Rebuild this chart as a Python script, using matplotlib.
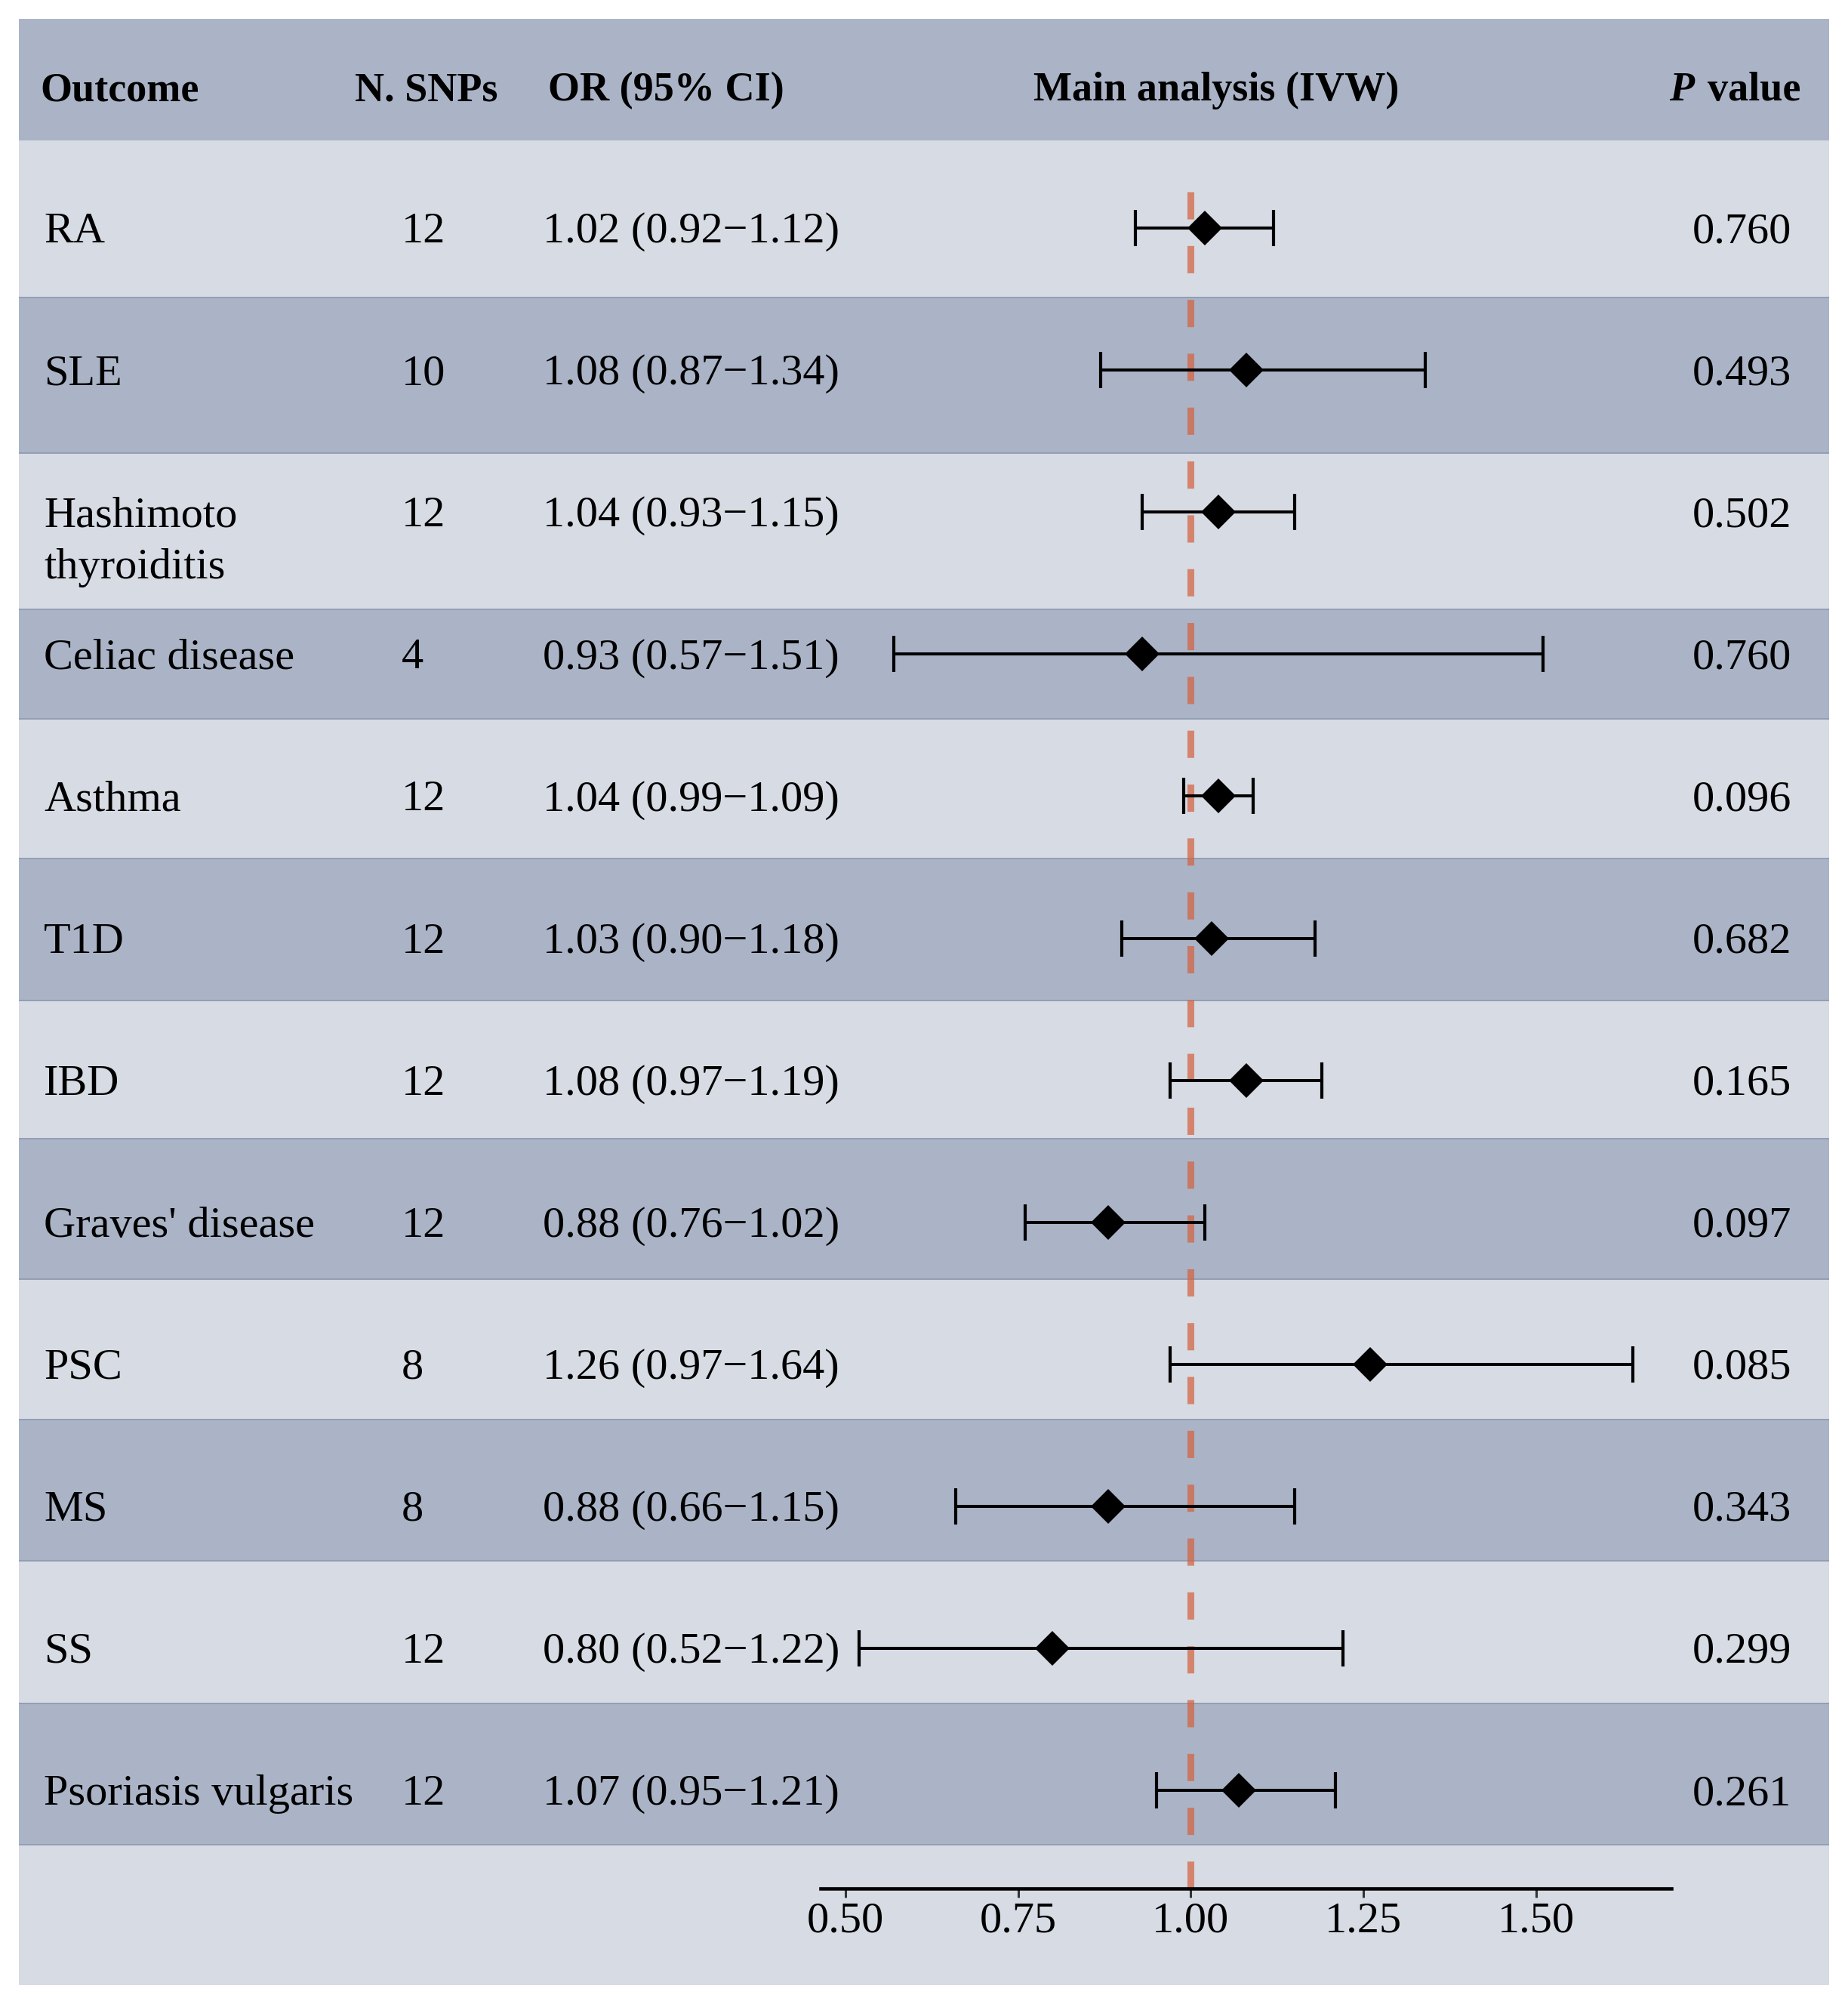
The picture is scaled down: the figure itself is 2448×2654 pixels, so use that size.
import matplotlib
matplotlib.use("Agg")
import matplotlib.pyplot as plt
from matplotlib.patches import Rectangle

# ---------------- data ----------------
outcomes = ["RA", "SLE", "Hashimoto\nthyroiditis", "Celiac disease", "Asthma", "T1D",
            "IBD", "Graves' disease", "PSC", "MS", "SS", "Psoriasis vulgaris"]
n_snps = [12, 10, 12, 4, 12, 12, 12, 12, 8, 8, 12, 12]
or_est = [1.02, 1.08, 1.04, 0.93, 1.04, 1.03, 1.08, 0.88, 1.26, 0.88, 0.80, 1.07]
ci_low = [0.92, 0.87, 0.93, 0.57, 0.99, 0.90, 0.97, 0.76, 0.97, 0.66, 0.52, 0.95]
ci_high = [1.12, 1.34, 1.15, 1.51, 1.09, 1.18, 1.19, 1.02, 1.64, 1.15, 1.22, 1.21]
p_values = ["0.760", "0.493", "0.502", "0.760", "0.096", "0.682", "0.165", "0.097",
            "0.085", "0.343", "0.299", "0.261"]
headers = ["Outcome", "N. SNPs", "OR (95% CI)", "Main analysis (IVW)", "value"]
x_ticks = [0.50, 0.75, 1.00, 1.25, 1.50]
x_tick_labels = ["0.50", "0.75", "1.00", "1.25", "1.50"]

# ---------------- layout ----------------
W, H = 2448, 2654
DPI = 100
FS = 42
FSH = 39
FONT = "Liberation Serif"
DARK = "#ABB4C7"
LIGHT = "#D7DBE4"
LINE = "#929EB3"

band_edges = [25, 186, 394, 600, 807, 952, 1137, 1325, 1508, 1694, 1880, 2067, 2256, 2443, 2629]
tab_left, tab_right = 25, 2423
row_y0, row_dy = 302, 188.1      # centre of first row, row spacing (pixels)
cap_half = 19                    # half cap height of text, px
line_gap = 69                    # line spacing for 2-line labels

fig = plt.figure(figsize=(W / DPI, H / DPI), dpi=DPI)
fig.patch.set_facecolor("white")

bg = fig.add_axes([0, 0, 1, 1])
bg.set_xlim(0, W)
bg.set_ylim(H, 0)
bg.axis("off")

# bands
for k in range(len(band_edges) - 1):
    col = DARK if k % 2 == 0 else LIGHT
    bg.add_patch(Rectangle((tab_left, band_edges[k]), tab_right - tab_left,
                           band_edges[k + 1] - band_edges[k], facecolor=col,
                           edgecolor="none", zorder=0))
for e in band_edges[2:-1]:
    bg.plot([tab_left, tab_right], [e, e], color=LINE, lw=1.4, zorder=1,
            solid_capstyle="butt")

# header
hb = 133
bg.text(53, hb, headers[0], fontsize=FSH, fontweight="bold", family=FONT, ha="left", va="baseline")
bg.text(470, hb, headers[1], fontsize=FSH, fontweight="bold", family=FONT, ha="left", va="baseline")
bg.text(726, hb, headers[2], fontsize=FSH, fontweight="bold", family=FONT, ha="left", va="baseline")
bg.text(1611, hb, headers[3], fontsize=FSH, fontweight="bold", family=FONT, ha="center", va="baseline")
bg.text(2385, hb, headers[4], fontsize=FSH, fontweight="bold", family=FONT, ha="right", va="baseline")
bg.text(2211, hb, "P", fontsize=FSH, fontweight="bold", fontstyle="italic", family=FONT,
        ha="left", va="baseline")

# table rows
for i in range(len(outcomes)):
    yb = row_y0 + i * row_dy + cap_half
    for j, line in enumerate(outcomes[i].split("\n")):
        bg.text(58, yb + j * line_gap, line, fontsize=FS, family=FONT, ha="left", va="baseline")
    bg.text(532, yb, str(n_snps[i]), fontsize=FS, family=FONT, ha="left", va="baseline")
    bg.text(719, yb, f"{or_est[i]:.2f} ({ci_low[i]:.2f}\u2212{ci_high[i]:.2f})",
            fontsize=FS, family=FONT, ha="left", va="baseline")
    bg.text(2242, yb, p_values[i], fontsize=FS, family=FONT, ha="left", va="baseline")

# ---------------- forest axes ----------------
ax_l, ax_r, ax_t, ax_b = 1087, 2214, 220, 2501
ax = fig.add_axes([ax_l / W, 1 - ax_b / H, (ax_r - ax_l) / W, (ax_b - ax_t) / H])
ax.set_facecolor("none")
ax.set_xlim(0.464, 1.696)
ax.set_ylim((ax_b - row_y0) / row_dy, (ax_t - row_y0) / row_dy)

ys = list(range(len(outcomes)))
ax.axvline(1.0, color="#D4633F", alpha=0.72, lw=6.5, dashes=(4.0, 3.9), zorder=1)
xerr = [[o - l for o, l in zip(or_est, ci_low)], [h - o for o, h in zip(or_est, ci_high)]]
ax.errorbar(or_est, ys, xerr=xerr, fmt="none", ecolor="black", elinewidth=2.9,
            capsize=17, capthick=3.0, zorder=3)
ax.plot(or_est, ys, linestyle="none", marker="D", markersize=23.4, color="black",
        markeredgewidth=0, zorder=4)

for s in ["left", "right", "top"]:
    ax.spines[s].set_visible(False)
ax.spines["bottom"].set_linewidth(3.3)
ax.spines["bottom"].set_color("black")
ax.set_yticks([])
ax.set_xticks(x_ticks)
ax.set_xticklabels(x_tick_labels, fontsize=FS, family=FONT)
ax.tick_params(axis="x", direction="out", length=8.6, width=2.2, color="#333333", pad=4)

fig.savefig("out.png", dpi=DPI, facecolor="white")
